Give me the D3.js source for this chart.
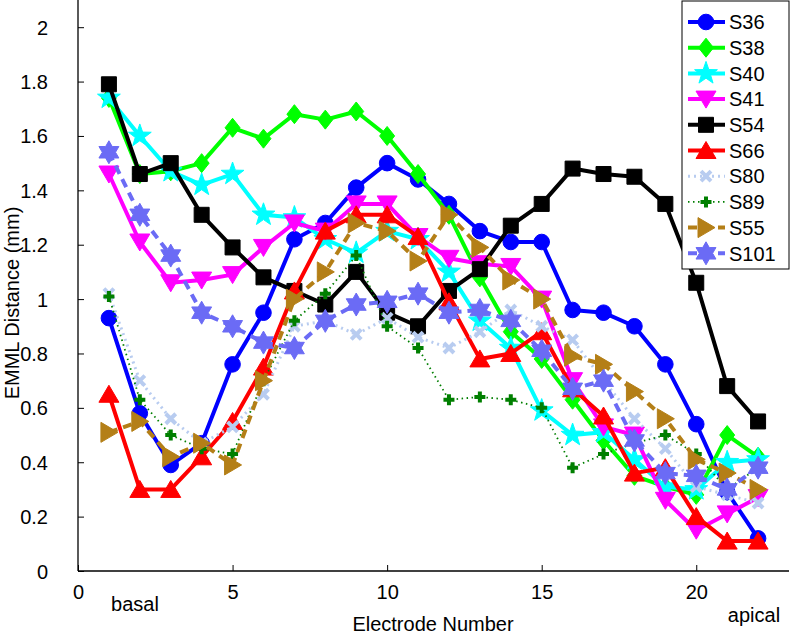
<!DOCTYPE html>
<html>
<head>
<meta charset="utf-8">
<script src="https://cdn.jsdelivr.net/npm/d3@7"></script>
<style>
  html, body { margin: 0; padding: 0; background: #fff; }
  svg { display: block; }
  text { font-family: "Liberation Sans", Arial, Helvetica, sans-serif; fill: #000; }
</style>
</head>
<body>
<svg id="chart" width="793" height="638"></svg>
<script>
// ---------- data ----------
const electrodes = [1,2,3,4,5,6,7,8,9,10,11,12,13,14,15,16,17,18,19,20,21,22];
const seriesNames = ["S36","S38","S40","S41","S54","S66","S80","S89","S55","S101"];
const S36  = [0.93,0.58,0.39,0.47,0.76,0.95,1.22,1.28,1.41,1.50,1.44,1.35,1.25,1.21,1.21,0.96,0.95,0.90,0.76,0.54,0.29,0.12];
const S38  = [1.74,1.46,1.47,1.50,1.63,1.59,1.68,1.66,1.69,1.60,1.46,1.31,1.08,0.88,0.78,0.63,0.48,0.35,0.31,0.28,0.50,0.42];
const S40  = [1.74,1.60,1.47,1.42,1.46,1.31,1.30,1.22,1.17,1.25,1.22,1.10,0.92,0.82,0.59,0.50,0.51,0.41,0.31,0.30,0.40,0.41];
const S41  = [1.46,1.21,1.06,1.07,1.09,1.19,1.28,1.25,1.35,1.35,1.23,1.15,1.13,1.12,1.00,0.70,0.53,0.50,0.26,0.15,0.21,0.27];
const S54  = [1.79,1.46,1.50,1.31,1.19,1.08,1.03,0.98,1.10,0.95,0.90,1.03,1.11,1.27,1.35,1.48,1.46,1.45,1.35,1.06,0.68,0.55];
const S66  = [0.65,0.30,0.30,0.42,0.55,0.75,1.03,1.25,1.31,1.31,1.23,0.99,0.78,0.80,0.88,0.67,0.57,0.36,0.38,0.20,0.11,0.11];
const S80  = [1.02,0.70,0.56,0.47,0.53,0.65,0.90,0.92,0.87,0.93,0.86,0.82,0.88,0.96,0.90,0.85,0.70,0.56,0.45,0.31,0.28,0.25];
const S89  = [1.01,0.63,0.50,0.45,0.43,0.70,0.92,1.02,1.16,0.90,0.82,0.63,0.64,0.63,0.60,0.38,0.43,0.47,0.50,0.43,0.30,0.38];
const S55  = [0.51,0.55,0.42,0.47,0.39,0.70,1.00,1.10,1.28,1.25,1.14,1.31,1.19,1.07,1.00,0.79,0.76,0.66,0.56,0.41,0.36,0.30];
const S101 = [1.54,1.31,1.16,0.95,0.90,0.84,0.82,0.92,0.98,0.99,1.02,0.95,0.96,0.92,0.81,0.67,0.70,0.48,0.36,0.35,0.30,0.38];
const seriesValues = [S36,S38,S40,S41,S54,S66,S80,S89,S55,S101];
const xTicks = [0,5,10,15,20];
const yTicks = [0,0.2,0.4,0.6,0.8,1,1.2,1.4,1.6,1.8,2];
const yTickLabels = ["0","0.2","0.4","0.6","0.8","1","1.2","1.4","1.6","1.8","2"];

// ---------- styles ----------
const styles = {
  S36:  {color:"#0000ff", width:4,   dash:null,   marker:"circle"},
  S38:  {color:"#00ff00", width:4,   dash:null,   marker:"diamond"},
  S40:  {color:"#00ffff", width:4,   dash:null,   marker:"pentagram"},
  S41:  {color:"#ff00ff", width:4,   dash:null,   marker:"triDown"},
  S54:  {color:"#000000", width:4,   dash:null,   marker:"square"},
  S66:  {color:"#ff0000", width:4,   dash:null,   marker:"triUp"},
  S80:  {color:"#b8ccf0", width:3,   dash:"2,4",  marker:"x"},
  S89:  {color:"#007f00", width:1.8, dash:"1.5,3.5", marker:"plus"},
  S55:  {color:"#b47f17", width:4,   dash:"9,6",  marker:"triRight"},
  S101: {color:"#6b6bf5", width:4,   dash:"9,6",  marker:"hexagram"}
};

function starPath(n, R, r) {
  const pts = [];
  for (let i = 0; i < 2*n; i++) {
    const a = -Math.PI/2 + i*Math.PI/n;
    const rad = i % 2 === 0 ? R : r;
    pts.push([rad*Math.cos(a), rad*Math.sin(a)]);
  }
  return "M" + pts.map(p => p[0].toFixed(2)+","+p[1].toFixed(2)).join("L") + "Z";
}
const markerPaths = {
  circle: d3.symbol(d3.symbolCircle, Math.PI*7.8*7.8)(),
  diamond: "M0,-9.5L7.5,0L0,9.5L-7.5,0Z",
  pentagram: starPath(5, 12, 4.8),
  triDown: "M-10,-8L10,-8L0,9Z",
  square: "M-7.5,-7.5L7.5,-7.5L7.5,7.5L-7.5,7.5Z",
  triUp: "M0,-9L10,8L-10,8Z",
  triRight: "M-8,-10L9,0L-8,10Z",
  hexagram: starPath(6, 11.5, 6.6),
  x: "M-5,-5L5,5M-5,5L5,-5",
  plus: "M-5.5,0L5.5,0M0,-5.5L0,5.5"
};

// ---------- layout ----------
const svg = d3.select("#chart");
const x = d3.scaleLinear().domain([0, 23]).range([78, 789]);
const y = d3.scaleLinear().domain([0, 2.1]).range([571, 0]);

// axes
const gx = svg.append("g").attr("transform", `translate(0,${y(0)})`)
  .call(d3.axisBottom(x).tickValues(xTicks).tickSize(-6).tickPadding(0).tickFormat(d3.format("d")));
gx.select(".domain").attr("stroke", "#000").attr("stroke-width", 1.3).attr("d", `M${x(0)},0H${x(23)}`);
gx.selectAll(".tick line").attr("stroke", "#000").attr("stroke-width", 1);
gx.selectAll(".tick text").attr("y", 28).attr("dy", null).style("font-size", "20px");

const gy = svg.append("g").attr("transform", `translate(${x(0)},0)`)
  .call(d3.axisLeft(y).tickValues(yTicks).tickSize(-6).tickPadding(0)
    .tickFormat((d, i) => yTickLabels[i]));
gy.select(".domain").attr("stroke", "#000").attr("stroke-width", 1.3).attr("d", `M0,${y(2.1)}V${y(0)}`);
gy.selectAll(".tick line").attr("stroke", "#000").attr("stroke-width", 1);
gy.selectAll(".tick text").attr("x", -30).attr("dy", "0.35em").attr("text-anchor", "end").style("font-size", "20px");
svg.selectAll(".tick text").attr("font-family", null);

// labels
svg.append("text").attr("x", 135).attr("y", 611).attr("text-anchor", "middle").style("font-size", "20px").text("basal");
svg.append("text").attr("x", 754).attr("y", 622).attr("text-anchor", "middle").style("font-size", "20px").text("apical");
svg.append("text").attr("x", 433).attr("y", 631).attr("text-anchor", "middle").style("font-size", "20px").text("Electrode Number");
svg.append("text").attr("transform", "translate(19,303) rotate(-90)").attr("text-anchor", "middle").style("font-size", "20px").text("EMML Distance (mm)");

// series
const line = d3.line().x(d => x(d[0])).y(d => y(d[1]));
function drawMarker(g, name, cx, cy) {
  const s = styles[name];
  const p = g.append("path").attr("d", markerPaths[s.marker]).attr("transform", `translate(${cx},${cy})`);
  if (s.marker === "x" || s.marker === "plus") {
    p.attr("fill", "none").attr("stroke", s.color).attr("stroke-width", 4);
  } else {
    p.attr("fill", s.color).attr("stroke", s.color).attr("stroke-width", 1);
  }
}
seriesNames.forEach((name, k) => {
  const s = styles[name];
  const pts = electrodes.map((e, i) => [e, seriesValues[k][i]]);
  const g = svg.append("g").attr("class", "series");
  g.append("path").datum(pts).attr("d", line).attr("fill", "none")
    .attr("stroke", s.color).attr("stroke-width", s.width)
    .attr("stroke-dasharray", s.dash).attr("stroke-linejoin", "round");
  pts.forEach(p => drawMarker(g, name, x(p[0]), y(p[1])));
});

// legend
const lg = svg.append("g");
lg.append("rect").attr("x", 682).attr("y", 1).attr("width", 107).attr("height", 268)
  .attr("fill", "#fff").attr("stroke", "#000").attr("stroke-width", 1);
seriesNames.forEach((name, k) => {
  const s = styles[name];
  const cy = 22 + k*25.7;
  lg.append("line").attr("x1", 688).attr("x2", 725).attr("y1", cy).attr("y2", cy)
    .attr("stroke", s.color).attr("stroke-width", s.width).attr("stroke-dasharray", s.dash);
  drawMarker(lg, name, 706, cy);
  lg.append("text").attr("x", 729).attr("y", cy).attr("dy", "0.36em").style("font-size", "20px").text(name);
});
</script>
</body>
</html>
